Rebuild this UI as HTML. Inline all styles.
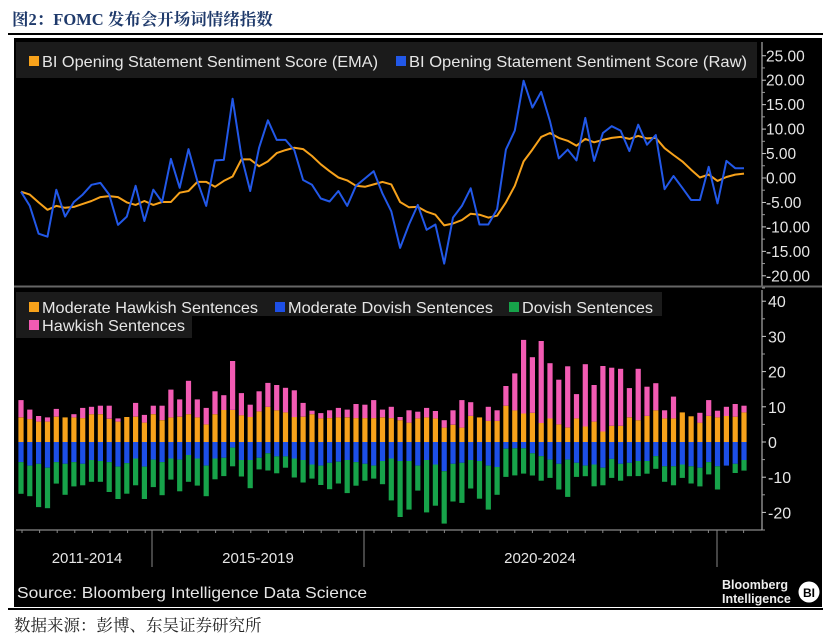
<!DOCTYPE html>
<html><head><meta charset="utf-8"><style>
html,body{margin:0;padding:0;background:#fff;}
svg{display:block;font-family:"Liberation Sans","Noto Sans CJK SC",sans-serif;}
</style></head><body>
<svg id="c" width="827" height="637" viewBox="0 0 827 637" xmlns="http://www.w3.org/2000/svg">
<text x="12" y="25" font-family="Liberation Serif,'Noto Serif CJK SC',serif" font-weight="bold" font-size="16.5" fill="#1f3a6b">图2：FOMC 发布会开场词情绪指数</text>
<rect x="8" y="33" width="815" height="2" fill="#000"/>
<rect x="14" y="38" width="808" height="569" fill="#000"/>
<rect x="8" y="608" width="815" height="2" fill="#000"/>
<text x="14" y="631" font-size="16.5" fill="#222" font-family="'Noto Serif CJK SC','Liberation Serif',serif">数据来源：彭博、东吴证券研究所</text>
<g id="gtop"></g><g id="gbot"></g>
</svg>
<script>
const categories = ["2011-2014","2015-2019","2020-2024"];
const emaScore = [-2.8,-3.4,-5.0,-6.5,-5.7,-6.1,-5.9,-5.3,-4.7,-3.9,-3.7,-3.9,-5.0,-5.5,-4.7,-5.5,-4.9,-4.9,-3.0,-2.65,-0.8,-0.8,-1.8,-0.6,0.3,3.8,3.8,2.4,3.4,5.1,5.7,6.2,5.9,4.5,2.8,1.4,0.1,-0.5,-1.6,-1.8,-1.3,-0.8,-1.3,-4.9,-6.0,-5.9,-6.9,-7.5,-9.7,-9.3,-8.6,-7.3,-7.5,-8.1,-7.7,-5.0,-1.6,3.4,5.8,8.4,9.2,8.2,7.6,6.6,8.0,7.3,7.8,8.2,8.4,8.0,8.6,8.1,8.2,6.1,4.7,3.4,1.7,0.1,0.7,-0.6,0.2,0.7,0.9];
const rawScore = [-2.8,-5.7,-11.4,-12.0,-2.4,-7.9,-4.9,-3.4,-1.4,-1.0,-3.4,-9.6,-7.9,-1.6,-8.8,-2.4,-4.9,3.9,-2.0,5.9,-0.6,-5.7,3.6,3.7,16.2,4.5,-2.65,6.2,11.8,7.8,7.8,5.7,-0.4,-1.4,-4.2,-4.8,-2.65,-5.7,-1.6,-0.1,1.4,-3.2,-6.8,-14.3,-9.5,-5.5,-10.6,-9.5,-17.5,-8.1,-5.7,-2.1,-9.5,-9.5,-6.4,5.8,9.7,19.9,14.4,17.6,11.6,4.0,5.8,3.6,12.3,3.5,9.2,10.6,9.7,5.5,10.9,6.8,8.8,-2.3,0.4,-2.0,-4.5,-4.5,2.3,-5.2,3.5,2.0,2.0];
const moderateHawkish = [7.0,6.5,5.8,5.8,7.2,7.0,7.0,6.8,7.9,7.9,6.6,5.8,7.1,7.2,5.5,7.9,6.2,7.0,7.2,7.9,7.0,5.0,7.9,9.1,9.1,7.6,7.1,8.7,10.0,9.0,8.4,7.1,7.2,7.9,6.7,6.8,7.0,7.0,6.8,6.8,6.8,7.0,6.8,6.2,5.5,6.7,7.0,6.7,4.1,4.9,4.1,7.4,7.0,6.0,6.0,10.3,9.0,8.1,8.3,5.4,6.7,5.0,4.1,6.7,4.4,5.8,3.0,4.6,4.6,7.0,6.2,7.4,9.0,6.7,6.7,8.4,7.3,5.5,7.4,7.0,7.4,7.2,8.4];
const hawkish = [4.9,2.7,1.6,1.2,2.2,0,0.9,2.9,2.1,2.4,3.7,0.9,0,3.9,2.2,2.4,4.1,7.9,4.9,9.5,5.1,4.7,6.5,4.2,13.9,6.3,3.5,5.7,6.8,7.2,7.0,7.6,3.9,1.0,1.5,2.2,2.7,2.2,4.0,3.8,5.1,2.2,3.2,0.9,3.5,1.9,2.7,2.1,2.1,4.1,7.8,3.9,0,4.0,3.0,5.6,10.5,20.9,15.8,23.3,15.7,12.7,17.4,6.9,17.7,10.4,18.6,16.5,16.2,8.3,14.6,8.3,7.7,2.3,6.2,0,0,2.8,4.5,1.9,2.6,3.6,1.9];
const moderateDovish = [-5.7,-6.7,-6.2,-7.3,-5.7,-6.2,-5.7,-6.2,-5.1,-5.4,-5.7,-7.0,-6.0,-4.7,-7.0,-5.0,-5.7,-4.7,-5.0,-3.7,-4.7,-6.7,-4.7,-4.5,-1.6,-5.1,-5.1,-4.5,-3.2,-4.1,-4.1,-4.7,-5.1,-6.4,-6.7,-5.9,-5.6,-5.1,-5.7,-6.2,-6.7,-5.4,-4.7,-5.4,-5.4,-6.7,-5.1,-6.4,-8.3,-6.2,-5.9,-5.1,-5.4,-6.7,-7.1,-1.9,-1.8,-1.8,-3.2,-4.0,-5.0,-6.2,-5.0,-5.9,-6.7,-6.4,-7.3,-4.8,-6.2,-5.9,-5.4,-5.4,-4.0,-6.9,-6.9,-6.4,-6.9,-7.3,-5.7,-6.9,-6.7,-6.2,-5.1];
const dovish = [-9.0,-8.7,-12.3,-11.5,-6.1,-8.8,-6.9,-6.1,-6.2,-5.9,-8.5,-9.2,-8.7,-7.6,-9.2,-7.8,-9.4,-6.0,-9.0,-7.6,-7.7,-8.7,-5.9,-5.2,-5.3,-4.7,-8.0,-3.3,-4.9,-4.8,-3.2,-5.4,-6.4,-4.0,-5.5,-7.5,-6.2,-9.4,-6.7,-4.8,-3.7,-6.6,-11.9,-15.9,-13.8,-7.1,-14.9,-11.7,-14.9,-10.7,-11.4,-8.1,-10.7,-12.5,-7.9,-8.0,-7.7,-7.2,-6.3,-7.0,-5.2,-7.3,-10.6,-4.0,-3.0,-6.2,-5.0,-5.4,-4.8,-3.8,-4.3,-3.6,-3.6,-4.4,-5.4,-3.8,-4.9,-5.3,-3.5,-6.6,0,-2.6,-3.0];
const topTicks = [25,20,15,10,5,0,-5,-10,-15,-20];
const botTicks = [40,30,20,10,0,-10,-20];

const NS="http://www.w3.org/2000/svg";
function mk(p,t,a){const e=document.createElementNS(NS,t);for(const k in a)e.setAttribute(k,a[k]);p.appendChild(e);return e;}
const N=rawScore.length;
const xAt=i=>21+i*(744-21)/(N-1);
const yTop=v=>178-v*4.89;
const yBot=v=>442-v*3.52;
const gTop=document.getElementById('gtop'), gBot=document.getElementById('gbot');
const C={orange:"#f7a21b",blue:"#1d4fe6",line:"#2258e8",green:"#17a34a",pink:"#f25bb3",txt:"#e6e6e6"};

let r=mk(gTop,'rect',{x:16,y:42,width:741,height:36,fill:"#1b1b1b"});


function legend(p,x,y,col,label,w,name){
  const s=mk(p,'rect',{x:x,y:y-11,width:10,height:10,fill:col});
  
  
  const t=mk(p,'text',{x:x+13,y:y,'font-size':16,fill:C.txt,textLength:w,lengthAdjust:'spacingAndGlyphs'});
  t.textContent=label;
  
  
}
legend(gTop,29,67,C.orange,"BI Opening Statement Sentiment Score (EMA)",336,'legend-entry-ema');
legend(gTop,396,67,C.line,"BI Opening Statement Sentiment Score (Raw)",338,'legend-entry-raw');

let ax=mk(gTop,'line',{x1:762,y1:42,x2:762,y2:286,stroke:"#ccc","stroke-width":1});


topTicks.forEach(v=>{
  const y=yTop(v);
  mk(gTop,'line',{x1:762,y1:y,x2:766,y2:y,stroke:"#ccc"});
  mk(gTop,'line',{x1:762,y1:y+12.2,x2:765,y2:y+12.2,stroke:"#999"});
  const t=mk(gTop,'text',{x:766,y:y+5.5,'font-size':15.5,fill:C.txt});
  t.textContent=v.toFixed(2);
  
  
});
let sep=mk(gTop,'line',{x1:14,y1:286.5,x2:822,y2:286.5,stroke:"#666","stroke-width":2});



function path(arr,col,name,w){
  const d=arr.map((v,i)=>(i?'L':'M')+xAt(i).toFixed(1)+','+yTop(v).toFixed(1)).join('');
  const p=mk(gTop,'path',{d:d,fill:'none',stroke:col,'stroke-width':w,'stroke-linejoin':'round'});
  
  
}
path(emaScore,C.orange,'ema-line',2);
path(rawScore,C.line,'raw-line',2);

r=mk(gBot,'rect',{x:16,y:292,width:646,height:24,fill:"#1b1b1b"});


r=mk(gBot,'rect',{x:16,y:316,width:176,height:22,fill:"#1b1b1b"});


legend(gBot,29,313,C.orange,"Moderate Hawkish Sentences",216,'legend-entry-moderate-hawkish');
legend(gBot,275,313,C.blue,"Moderate Dovish Sentences",205,'legend-entry-moderate-dovish');
legend(gBot,509,313,C.green,"Dovish Sentences",131,'legend-entry-dovish');
legend(gBot,29,331,C.pink,"Hawkish Sentences",143,'legend-entry-hawkish');

ax=mk(gBot,'line',{x1:762,y1:290,x2:762,y2:530,stroke:"#ccc"});


botTicks.forEach(v=>{
  const y=yBot(v);
  mk(gBot,'line',{x1:762,y1:y,x2:766,y2:y,stroke:"#ccc"});
  mk(gBot,'line',{x1:762,y1:y+17.6,x2:765,y2:y+17.6,stroke:"#999"});
  const t=mk(gBot,'text',{x:768,y:y+6,'font-size':16,fill:C.txt});
  t.textContent=v;
  
  
});

const bw=5.2;
for(let i=0;i<N;i++){
  const x=xAt(i)-bw/2;
  const segs=[[0,moderateHawkish[i],C.orange,'bar-moderate-hawkish'],[moderateHawkish[i],moderateHawkish[i]+hawkish[i],C.pink,'bar-hawkish'],[0,moderateDovish[i],C.blue,'bar-moderate-dovish'],[moderateDovish[i],moderateDovish[i]+dovish[i],C.green,'bar-dovish']];
  segs.forEach(s=>{
    const y1=yBot(Math.max(s[0],s[1])),y2=yBot(Math.min(s[0],s[1]));
    if(y2-y1<=0)return;
    const b=mk(gBot,'rect',{x:x.toFixed(1),y:y1.toFixed(1),width:bw,height:(y2-y1).toFixed(1),fill:s[2]});
    
    
  });
}

ax=mk(gBot,'line',{x1:16,y1:530,x2:762,y2:530,stroke:"#aaa"});


for(let x=22;x<760;x+=17.6) mk(gBot,'line',{x1:x,y1:530,x2:x,y2:533,stroke:"#888"});
const catCenters=[87,258,540];
[152,364,717].forEach(x=>{
  const l=mk(gBot,'line',{x1:x,y1:530,x2:x,y2:567,stroke:"#888"});
  
  
});
categories.forEach((c,i)=>{
  const t=mk(gBot,'text',{x:catCenters[i],y:563,'font-size':15,fill:C.txt,'text-anchor':'middle'});
  t.textContent=c;
  
  
});
let s=mk(gBot,'text',{x:17,y:598,'font-size':16,fill:C.txt,textLength:350,lengthAdjust:'spacingAndGlyphs'});
s.textContent="Source: Bloomberg Intelligence Data Science";


s=mk(gBot,'text',{x:722,y:589,'font-size':12.5,'font-weight':'bold',fill:"#eee"});
s.textContent="Bloomberg";


s=mk(gBot,'text',{x:722,y:603,'font-size':12.5,'font-weight':'bold',fill:"#eee"});
s.textContent="Intelligence";


s=mk(gBot,'circle',{cx:809,cy:592,r:10.5,fill:"#fff"});


s=mk(gBot,'text',{x:809,y:597,'font-size':12,'font-weight':'bold',fill:"#000",'text-anchor':'middle'});
s.textContent="BI";


</script>
</body></html>
